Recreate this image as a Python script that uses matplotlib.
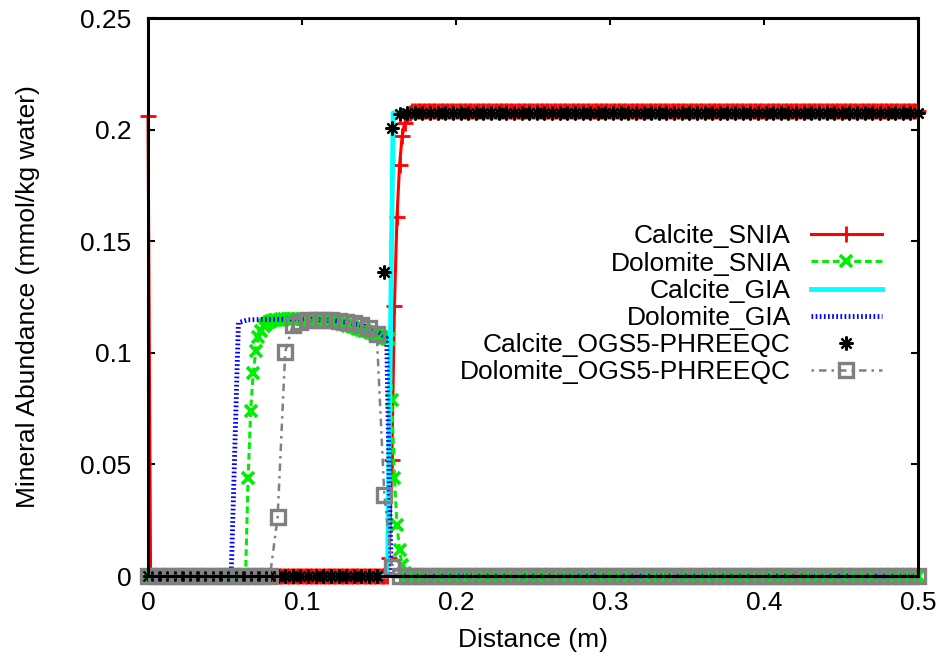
# Calcite / Dolomite mineral abundance profiles: SNIA, GIA and OGS5-PHREEQC
import numpy as np
import matplotlib
matplotlib.use('Agg')
import matplotlib.pyplot as plt

plt.rcParams['font.family'] = ['Liberation Sans', 'DejaVu Sans']

# SNIA grid: 301 nodes over 0..0.5 m
x_snia = np.linspace(0, 0.5, 301)

# Calcite_SNIA: initial value at x=0, zeros, front values (k=94..102), plateau
calcite_snia_start = 0.206
calcite_snia_front = [0.008, 0.052, 0.121, 0.161, 0.184, 0.197, 0.203, 0.206, 0.2075]
calcite_snia_plateau = 0.2083

# Dolomite_SNIA: zeros up to k=38, values k=39..100, zeros after
dolomite_snia_front = [0.044, 0.074, 0.091, 0.101, 0.107, 0.110, 0.112, 0.113, 0.1137, 0.1142,
                       0.1145, 0.1147, 0.1149, 0.1150, 0.1151, 0.1152, 0.1152, 0.1153, 0.1153, 0.1153,
                       0.1153, 0.1153, 0.1152, 0.1152, 0.1151, 0.1150, 0.1149, 0.1148, 0.1147, 0.1145,
                       0.1144, 0.1142, 0.1140, 0.1138, 0.1136, 0.1134, 0.1131, 0.1128, 0.1125, 0.1122,
                       0.1119, 0.1115, 0.1112, 0.1108, 0.1104, 0.1100, 0.1096, 0.1092, 0.1088, 0.1084,
                       0.1080, 0.1076, 0.1072, 0.1068, 0.1064, 0.1060, 0.079, 0.044, 0.023, 0.0117,
                       0.005, 0.0015]

# GIA results (lines only)
x_calcite_gia = [0.0, 0.1555, 0.1592, 0.5]
calcite_gia = [0.0, 0.0, 0.2075, 0.2075]
x_dolomite_gia = [0.0, 0.0540, 0.0587, 0.065, 0.08, 0.10, 0.12, 0.13, 0.14, 0.15, 0.155, 0.1567, 0.158, 0.5]
dolomite_gia = [0.0, 0.0, 0.1135, 0.1148, 0.1150, 0.1152, 0.1145, 0.1135, 0.1120, 0.1090, 0.1065, 0.04, 0.0, 0.0]

# OGS5-PHREEQC grid: 102 nodes
x_ogs = np.linspace(0, 0.5, 102)
calcite_ogs_front = [0.136, 0.2006, 0.207]   # k=31..33, zeros before
calcite_ogs_plateau = 0.2075
dolomite_ogs_front = [0.0264, 0.1005, 0.1125, 0.1140, 0.1145, 0.1148, 0.1148, 0.1146, 0.1143,
                      0.1139, 0.1133, 0.1125, 0.1113, 0.1085, 0.0363, 0.004]   # k=17..32

# assemble full series
calcite_snia = np.concatenate([[calcite_snia_start], np.zeros(93), calcite_snia_front,
                               np.full(301 - 103, calcite_snia_plateau)])
dolomite_snia = np.concatenate([np.zeros(39), dolomite_snia_front, np.zeros(301 - 101)])
calcite_ogs = np.concatenate([np.zeros(31), calcite_ogs_front, np.full(102 - 34, calcite_ogs_plateau)])
dolomite_ogs = np.concatenate([np.zeros(17), dolomite_ogs_front, np.zeros(102 - 33)])

fig = plt.figure(figsize=(9.38, 6.58), dpi=100)
ax = fig.add_axes([0.1578, 0.1246, 0.8209, 0.848])

ax.plot(x_snia, calcite_snia, color='#ff0000', lw=2.2, marker='+', ms=11, mew=2,
        label='Calcite_SNIA', clip_on=False)
ax.plot(x_snia, dolomite_snia, color='#00ee00', lw=2.2, ls=(0, (2.2, 1.3)), marker='x', ms=9, mew=2.6,
        label='Dolomite_SNIA', clip_on=False)
ax.plot(x_calcite_gia, calcite_gia, color='#00ffff', lw=3.5, label='Calcite_GIA', clip_on=False)
ax.plot(x_dolomite_gia, dolomite_gia, color='#0000ff', lw=3.5, ls=(0, (0.35, 0.5)),
        label='Dolomite_GIA', clip_on=False)
ax.plot(x_ogs, calcite_ogs, ls='none', color='black', marker=(8, 2, 0), ms=10, mew=1.6,
        label='Calcite_OGS5-PHREEQC', clip_on=False)
ax.plot(x_ogs, dolomite_ogs, color='#808080', lw=1.8, ls=(0, (1, 2, 3, 2)), marker='s', ms=10.5,
        mew=2.4, mfc='none', label='Dolomite_OGS5-PHREEQC', clip_on=False)

ax.set_xlim(0, 0.5)
ax.set_ylim(0, 0.25)
ax.set_xticks([0, 0.1, 0.2, 0.3, 0.4, 0.5])
ax.set_xticklabels(['0', '0.1', '0.2', '0.3', '0.4', '0.5'])
ax.set_yticks([0, 0.05, 0.1, 0.15, 0.2, 0.25])
ax.set_yticklabels(['0', '0.05', '0.1', '0.15', '0.2', '0.25'])
ax.tick_params(direction='in', length=5, width=1.5, top=True, right=True, labelsize=19)
ax.tick_params(axis='y', pad=12)
ax.tick_params(axis='x', pad=11)
for s in ax.spines.values():
    s.set_linewidth(2.2)
    s.set_zorder(10)

ax.set_xlabel('Distance (m)', fontsize=19, labelpad=9)
ax.set_ylabel('Mineral Abundance (mmol/kg water)', fontsize=19, labelpad=29)

ax.legend(loc='upper right', bbox_to_anchor=(0.953, 0.63), frameon=False, markerfirst=False,
          fontsize=19, handlelength=2.7, handletextpad=0.75, labelspacing=0.12, borderpad=0,
          borderaxespad=0, numpoints=1)

fig.savefig('out.png', dpi=100)
